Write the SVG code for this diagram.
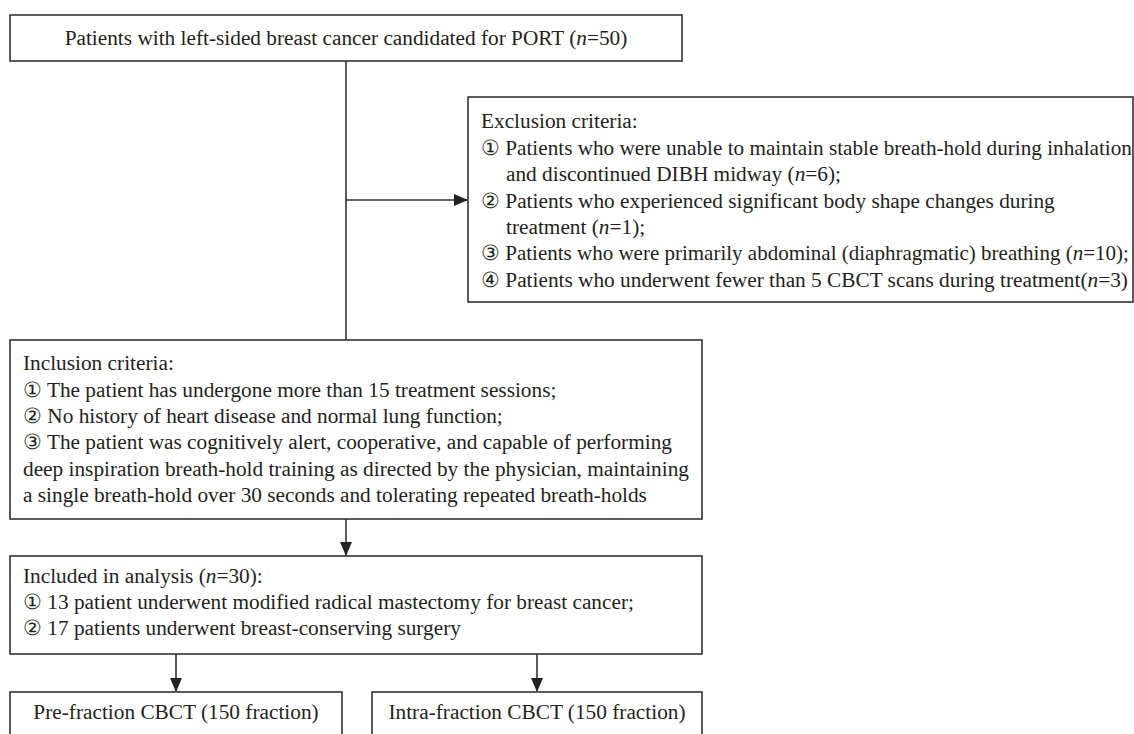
<svg xmlns="http://www.w3.org/2000/svg" width="1134" height="734" viewBox="0 0 1134 734">
<defs>
<style>
.box{fill:#fff;stroke:#333;stroke-width:1.6}
.t{font-family:"Liberation Serif","Times New Roman",serif;font-size:21.3px;fill:#231f20}
.c{text-anchor:middle}
.ln{stroke:#333;stroke-width:1.6;fill:none}
.i{font-style:italic}
</style>
<marker id="ah" markerWidth="14" markerHeight="12" refX="13" refY="6" orient="auto" markerUnits="userSpaceOnUse">
<path d="M0,0 L14,6 L0,12 Z" fill="#222"/>
</marker>
</defs>
<rect width="1134" height="734" fill="#fff"/>
<g id="connectors">
<line class="ln" x1="346" y1="61" x2="346" y2="340"/>
<line class="ln" x1="346" y1="200" x2="467" y2="200" marker-end="url(#ah)"/>
<line class="ln" x1="346" y1="519" x2="346" y2="555" marker-end="url(#ah)"/>
<line class="ln" x1="176" y1="654" x2="176" y2="691" marker-end="url(#ah)"/>
<line class="ln" x1="537" y1="654" x2="537" y2="691" marker-end="url(#ah)"/>
</g>
<g id="node-start">
<rect class="box" x="10" y="15" width="672" height="46"/>
<text class="t c" x="346" y="45">Patients with left-sided breast cancer candidated for PORT (<tspan class="i">n</tspan>=50)</text>
</g>
<g id="node-exclusion">
<rect class="box" x="468" y="97" width="665" height="205"/>
<text class="t" x="481" y="128">Exclusion criteria:</text>
<text class="t" x="481" y="155" style="font-size:21.2px">① Patients who were unable to maintain stable breath-hold during inhalation</text>
<text class="t" x="506" y="181">and discontinued DIBH midway (<tspan class="i">n</tspan>=6);</text>
<text class="t" x="481" y="208">② Patients who experienced significant body shape changes during</text>
<text class="t" x="506" y="234">treatment (<tspan class="i">n</tspan>=1);</text>
<text class="t" x="481" y="260" style="font-size:21px">③ Patients who were primarily abdominal (diaphragmatic) breathing (<tspan class="i">n</tspan>=10);</text>
<text class="t" x="481" y="287">④ Patients who underwent fewer than 5 CBCT scans during treatment(<tspan class="i">n</tspan>=3)</text>
</g>
<g id="node-inclusion">
<rect class="box" x="10" y="340" width="692" height="179"/>
<text class="t" x="23" y="370">Inclusion criteria:</text>
<text class="t" x="23" y="397">① The patient has undergone more than 15 treatment sessions;</text>
<text class="t" x="23" y="423">② No history of heart disease and normal lung function;</text>
<text class="t" x="23" y="449">③ The patient was cognitively alert, cooperative, and capable of performing</text>
<text class="t" x="23" y="476">deep inspiration breath-hold training as directed by the physician, maintaining</text>
<text class="t" x="23" y="502">a single breath-hold over 30 seconds and tolerating repeated breath-holds</text>
</g>
<g id="node-analysis">
<rect class="box" x="10" y="556" width="692" height="98"/>
<text class="t" x="23" y="583">Included in analysis (<tspan class="i">n</tspan>=30):</text>
<text class="t" x="23" y="609">① 13 patient underwent modified radical mastectomy for breast cancer;</text>
<text class="t" x="23" y="635">② 17 patients underwent breast-conserving surgery</text>
</g>
<g id="node-pre">
<rect class="box" x="10" y="692" width="332" height="60"/>
<text class="t c" x="176" y="719">Pre-fraction CBCT (150 fraction)</text>
</g>
<g id="node-intra">
<rect class="box" x="372" y="692" width="330" height="60"/>
<text class="t c" x="537" y="719">Intra-fraction CBCT (150 fraction)</text>
</g>
</svg>
